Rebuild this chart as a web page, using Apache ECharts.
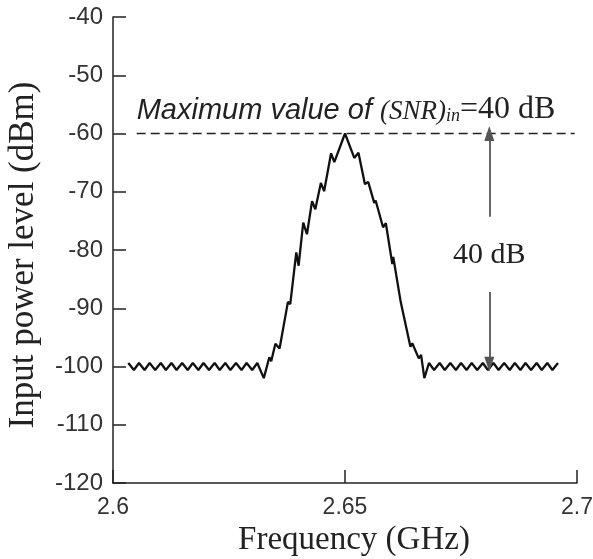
<!DOCTYPE html>
<html>
<head>
<meta charset="utf-8">
<script src="https://cdn.jsdelivr.net/npm/echarts@6/dist/echarts.min.js"></script>
<style>
html,body{margin:0;padding:0;background:#fff;}
#chart{width:593px;height:559px;}
</style>
</head>
<body>
<div id="chart"></div>
<script>
// Frequency (GHz) of each point of the measured curve
var freq = [
  2.6033,2.6045,2.6056,2.6068,2.6079,2.6091,2.6103,2.6114,2.6126,2.6137,2.6149,2.6161,2.6172,
  2.6184,2.6195,2.6207,2.6219,2.6230,2.6242,2.6253,2.6265,2.6277,2.6288,2.6300,2.6311,
  2.6325,2.6337,2.6341,2.6350,2.6359,2.6377,2.6382,2.6395,2.6400,2.6410,2.6418,2.6429,2.6436,
  2.6448,2.6455,2.6470,2.6477,2.6500,2.6520,2.6529,2.6543,2.6550,2.6563,2.6566,2.6582,2.6588,
  2.6602,2.6604,2.6620,2.6623,2.6641,2.6645,2.6659,2.6664,2.6671,2.6681,
  2.6692,2.6704,2.6715,2.6727,2.6739,2.6750,2.6762,2.6773,2.6785,2.6797,2.6808,2.6820,
  2.6831,2.6843,2.6855,2.6866,2.6878,2.6889,2.6901,2.6913,2.6924,2.6936,2.6947,2.6959
];
// Input power level (dBm) of each point
var power = [
  -99.4,-100.6,-99.4,-100.6,-99.4,-100.6,-99.4,-100.6,-99.4,-100.6,-99.4,-100.6,-99.4,
  -100.6,-99.4,-100.6,-99.4,-100.6,-99.4,-100.6,-99.4,-100.6,-99.4,-100.6,-99.4,
  -102.0,-98.4,-99.1,-96.1,-96.9,-88.9,-89.3,-80.4,-82.7,-75.3,-77.3,-71.6,-73.0,
  -68.5,-69.9,-63.4,-64.9,-60.0,-64.2,-63.3,-68.7,-68.3,-71.9,-71.5,-76.1,-75.4,
  -82.4,-81.2,-88.9,-88.6,-96.6,-96.0,-98.6,-98.0,-102.0,-99.4,
  -100.6,-99.4,-100.6,-99.4,-100.6,-99.4,-100.6,-99.4,-100.6,-99.4,-100.6,-99.4,
  -100.6,-99.4,-100.6,-99.4,-100.6,-99.4,-100.6,-99.4,-100.6,-99.4,-100.6,-99.4
];
// Dashed reference line: maximum level
var refFreq = [2.6051, 2.6995];
var refLevel = [-60, -60];
// Double arrow (40 dB span) position
var arrowFreq = 2.6811;
var arrowTop = [-60, -74.3];     // tip, tail
var arrowBottom = [-99.6, -87.2]; // tip, tail
var arrowLabelLevel = -80.9;

var xTicks = {min: 2.6, max: 2.7, interval: 0.05};
var yTicks = {min: -120, max: -40, interval: 10};

var curve = freq.map(function (f, i) { return [f, power[i]]; });
var refLine = refFreq.map(function (f, i) { return [f, refLevel[i]]; });

var chart = echarts.init(document.getElementById('chart'), null, {renderer: 'canvas'});
var axisColor = '#222';
var option = {
  animation: false,
  backgroundColor: '#fff',
  grid: {left: 113, right: 16, top: 17, bottom: 76, containLabel: false, outerBoundsMode: 'none'},
  xAxis: {
    type: 'value', min: xTicks.min, max: xTicks.max, interval: xTicks.interval,
    name: 'Frequency (GHz)', nameLocation: 'middle', nameGap: 41,
    nameTextStyle: {fontFamily: 'Liberation Serif', fontSize: 33, color: '#222', padding: [0, 0, 0, 18]},
    axisLine: {lineStyle: {color: axisColor, width: 1.5}},
    axisTick: {inside: true, length: 13, lineStyle: {color: axisColor, width: 1.5}},
    axisLabel: {fontFamily: 'Liberation Sans', fontSize: 23, color: '#333', margin: 13,
      formatter: function (v) { return String(+v.toFixed(2)); }},
    splitLine: {show: false}
  },
  yAxis: {
    type: 'value', min: yTicks.min, max: yTicks.max, interval: yTicks.interval,
    name: 'Input power level (dBm)', nameLocation: 'middle', nameGap: 72,
    nameTextStyle: {fontFamily: 'Liberation Serif', fontSize: 35, color: '#222', padding: [0, 10, 0, 0]},
    axisLine: {show: true, lineStyle: {color: axisColor, width: 1.5}},
    axisTick: {show: true, inside: true, length: 13, lineStyle: {color: axisColor, width: 1.5}},
    axisLabel: {fontFamily: 'Liberation Sans', fontSize: 24, color: '#333', margin: 10},
    splitLine: {show: false}
  },
  series: [
    {
      type: 'line', data: curve, showSymbol: false, symbol: 'none',
      lineStyle: {color: '#111', width: 2.3}, silent: true
    },
    {
      type: 'line', data: refLine, showSymbol: false, symbol: 'none',
      lineStyle: {color: '#222', width: 1.5, type: [9, 5]}, silent: true,
      markLine: {
        silent: true, symbol: ['none', 'triangle'], symbolSize: [10, 15],
        label: {show: false},
        lineStyle: {color: '#555', width: 1.8, type: 'solid'},
        emphasis: {disabled: true},
        data: [
          [{coord: [arrowFreq, arrowTop[1]]}, {coord: [arrowFreq, arrowTop[0]]}],
          [{coord: [arrowFreq, arrowBottom[1]]}, {coord: [arrowFreq, arrowBottom[0]]}]
        ]
      }
    }
  ]
};
chart.setOption(option);

function placeText() {
  var p0 = chart.convertToPixel({gridIndex: 0}, [refFreq[0], refLevel[0]]);
  var pA = chart.convertToPixel({gridIndex: 0}, [arrowFreq, arrowLabelLevel]);
  chart.setOption({
    graphic: [
      {
        type: 'text', left: p0[0], top: p0[1] - 40, silent: true,
        style: {
          text: '{a|Maximum value of }{b|(SNR)}{c|in}{d|=40 dB}',
          rich: {
            a: {fontFamily: 'Liberation Sans', fontStyle: 'italic', fontSize: 29, fill: '#222', verticalAlign: 'bottom', lineHeight: 34},
            b: {fontFamily: 'Liberation Serif', fontStyle: 'italic', fontSize: 27, fill: '#222', verticalAlign: 'bottom', lineHeight: 34},
            c: {fontFamily: 'Liberation Serif', fontStyle: 'italic', fontSize: 18, fill: '#222', verticalAlign: 'bottom', lineHeight: 18},
            d: {fontFamily: 'Liberation Serif', fontSize: 32, fill: '#222', verticalAlign: 'bottom', lineHeight: 34}
          }
        }
      },
      {
        type: 'text', x: pA[0], y: pA[1], silent: true,
        style: {text: '40 dB', fontFamily: 'Liberation Serif', fontSize: 30, fill: '#222', align: 'center', verticalAlign: 'middle'}
      }
    ]
  });
}
placeText();
</script>
</body>
</html>
